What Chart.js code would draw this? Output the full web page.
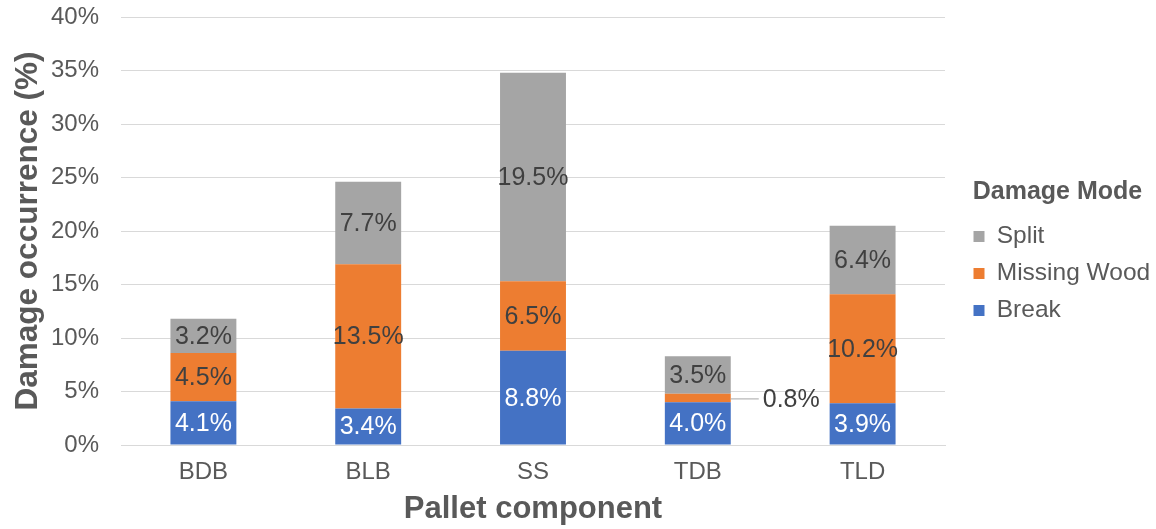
<!DOCTYPE html>
<html>
<head>
<meta charset="utf-8">
<script src="https://cdn.jsdelivr.net/npm/chart.js@4"></script>
<style>
  html, body { margin: 0; padding: 0; background: #ffffff; }
  #wrap { width: 1156px; height: 529px; }
</style>
</head>
<body>
<div id="wrap"><canvas id="chart" width="1156" height="529"></canvas></div>
<script>
// Pallet components on the x axis
const components = ['BDB', 'BLB', 'SS', 'TDB', 'TLD'];

// Damage occurrence (%) per damage mode, stacked bottom to top
const breakValues = [4.1, 3.4, 8.8, 4.0, 3.9];
const missingWoodValues = [4.5, 13.5, 6.5, 0.8, 10.2];
const splitValues = [3.2, 7.7, 19.5, 3.5, 6.4];

// Y axis tick range
const yTicks = [0, 5, 10, 15, 20, 25, 30, 35, 40];

const FONT = "'Liberation Sans', Arial, sans-serif";
const TEXT = '#595959';

// Fixed box sizes so the plot area sits in the same place every render
const Y_AXIS_WIDTH = 112;
const X_AXIS_HEIGHT = 83;
const LEGEND_WIDTH = 211;      // space reserved right of the plot
const LEGEND_INSET = 16;       // gap between plot and legend block
const LEGEND_LIFT = 15;        // legend block sits slightly above centre
const LEGEND_BLOCK = 193;      // width the legend title is centred in

// Legend placement plus the value labels on each bar segment; very thin
// segments get their label to the right with a short leader line.
const segmentLabels = {
  id: 'segmentLabels',
  beforeLayout(chart) {
    const legend = chart.legend;
    if (legend && !legend._fixedWidth) {
      const fit = legend.fit.bind(legend);
      legend.fit = function () { fit(); this.width = LEGEND_WIDTH; };
      legend._fixedWidth = true;
    }
  },
  afterLayout(chart) {
    const legend = chart.legend;
    if (legend) {
      legend.left += LEGEND_INSET;
      legend.width = LEGEND_BLOCK;
      legend.right = legend.left + LEGEND_BLOCK;
      legend.top -= LEGEND_LIFT;
      legend.bottom -= LEGEND_LIFT;
    }
  },
  afterDatasetsDraw(chart) {
    const ctx = chart.ctx;
    ctx.save();
    ctx.font = '25px ' + FONT;
    ctx.textBaseline = 'middle';
    chart.data.datasets.forEach((ds, di) => {
      const meta = chart.getDatasetMeta(di);
      meta.data.forEach((bar, i) => {
        const v = ds.data[i];
        const text = v.toFixed(1) + '%';
        const cy = (bar.y + bar.base) / 2;
        const h = Math.abs(bar.base - bar.y);
        if (h < 20) {
          const x0 = bar.x + bar.width / 2;
          ctx.strokeStyle = '#a6a6a6';
          ctx.lineWidth = 1;
          ctx.beginPath();
          ctx.moveTo(x0, cy + 1);
          ctx.lineTo(x0 + 28, cy + 1);
          ctx.stroke();
          ctx.fillStyle = '#404040';
          ctx.textAlign = 'left';
          ctx.fillText(text, x0 + 32, cy + 2);
        } else {
          ctx.fillStyle = ds.labelColor;
          ctx.textAlign = 'center';
          ctx.fillText(text, bar.x, cy + 1);
        }
      });
    });
    ctx.restore();
  }
};

new Chart(document.getElementById('chart'), {
  type: 'bar',
  data: {
    labels: components,
    datasets: [
      { label: 'Break', data: breakValues, backgroundColor: '#4472C4', labelColor: '#ffffff' },
      { label: 'Missing Wood', data: missingWoodValues, backgroundColor: '#ED7D31', labelColor: '#404040' },
      { label: 'Split', data: splitValues, backgroundColor: '#A5A5A5', labelColor: '#404040' }
    ]
  },
  options: {
    responsive: false,
    animation: false,
    devicePixelRatio: 1,
    layout: { padding: { top: 17, right: 0, left: 9, bottom: 1 } },
    datasets: { bar: { categoryPercentage: 1.0, barPercentage: 0.4, borderWidth: 0 } },
    plugins: {
      tooltip: { enabled: false },
      legend: {
        position: 'right',
        align: 'center',
        reverse: true,
        title: {
          display: true,
          text: 'Damage Mode',
          color: TEXT,
          font: { family: FONT, size: 25, weight: 'bold' },
          padding: { top: 0, bottom: 2 },
          position: 'center'
        },
        labels: {
          color: TEXT,
          font: { family: FONT, size: 24.5 },
          boxWidth: 11,
          boxHeight: 11,
          padding: 12.5
        }
      }
    },
    scales: {
      x: {
        stacked: true,
        grid: { display: false, drawTicks: false },
        border: { display: true, color: '#D9D9D9', width: 1 },
        ticks: { color: TEXT, font: { family: FONT, size: 24 }, padding: 13 },
        afterFit(scale) {
          scale.height = X_AXIS_HEIGHT;
          scale.paddingLeft = 0;
          scale.paddingRight = 0;
        },
        title: {
          display: true,
          text: 'Pallet component',
          color: TEXT,
          font: { family: FONT, size: 31, weight: 'bold' },
          padding: { top: 0, bottom: 0 }
        }
      },
      y: {
        stacked: true,
        min: yTicks[0],
        max: yTicks[yTicks.length - 1],
        afterBuildTicks(scale) { scale.ticks = yTicks.map(v => ({ value: v })); },
        afterFit(scale) {
          scale.width = Y_AXIS_WIDTH;
          scale.paddingTop = 0;
          scale.paddingBottom = 0;
        },
        grid: { color: '#D9D9D9', drawTicks: false },
        border: { display: false },
        ticks: {
          color: TEXT,
          font: { family: FONT, size: 24 },
          padding: 22,
          callback: v => v + '%'
        },
        title: {
          display: true,
          text: 'Damage occurrence (%)',
          color: TEXT,
          font: { family: FONT, size: 31.5, weight: 'bold' },
          padding: { top: 0, bottom: 0 }
        }
      }
    }
  },
  plugins: [segmentLabels]
});
</script>
</body>
</html>
